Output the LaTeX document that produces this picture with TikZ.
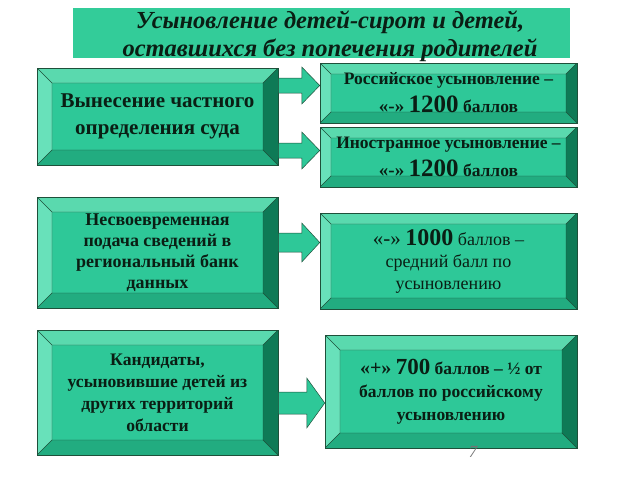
\documentclass[tikz,border=0pt]{standalone}
\usepackage{fontspec}
\setmainfont{Liberation Serif}
\usetikzlibrary{calc}
\definecolor{panelface}{RGB}{46,200,152}
\definecolor{paneltop}{RGB}{90,217,174}
\definecolor{panelleft}{RGB}{104,225,186}
\definecolor{panelbot}{RGB}{34,172,128}
\definecolor{panelright}{RGB}{14,122,86}
\definecolor{paneledge}{RGB}{30,80,58}
\definecolor{titlefill}{RGB}{51,204,153}
\definecolor{ink}{RGB}{10,30,20}
\newcommand{\fatarrow}[4]{%
  \draw[fatarr] ($(#1)+(0,#3)$) -- ($(#2)+(-18pt,#3)$) -- ($(#2)+(-18pt,#4)$) -- (#2)
    -- ($(#2)+(-18pt,-#4)$) -- ($(#2)+(-18pt,-#3)$) -- ($(#1)+(0,-#3)$) -- cycle;}

\tikzset{
  bevelw/.store in=\bevw, bevelw=15pt,
  panel/.style={draw=paneledge, line width=0.5pt, fill=panelface, inner sep=0pt,
    align=center, text=ink, font=\bfseries\fontsize{18}{21}\selectfont,
    path picture={
      \coordinate (pnw) at (path picture bounding box.north west);
      \coordinate (pse) at (path picture bounding box.south east);
      \coordinate (pne) at (pse |- pnw);
      \coordinate (psw) at (pnw |- pse);
      \coordinate (inw) at ($(pnw)+(\bevw,-\bevw)$);
      \coordinate (ine) at ($(pne)+(-\bevw,-\bevw)$);
      \coordinate (ise) at ($(pse)+(-\bevw,\bevw)$);
      \coordinate (isw) at ($(psw)+(\bevw,\bevw)$);
      \fill[paneltop] (pnw) -- (pne) -- (ine) -- (inw) -- cycle;
      \fill[panelleft] (pnw) -- (inw) -- (isw) -- (psw) -- cycle;
      \fill[panelbot] (psw) -- (isw) -- (ise) -- (pse) -- cycle;
      \fill[panelright] (pne) -- (pse) -- (ise) -- (ine) -- cycle;
      \draw[paneledge, line width=0.4pt] (inw) rectangle (ise)
        (pnw) -- (inw) (pne) -- (ine) (pse) -- (ise) (psw) -- (isw);
    }},
  rpanel/.style={panel, bevelw=11pt, font=\bfseries\fontsize{17.5}{28}\selectfont},
  titlebar/.style={fill=titlefill, inner sep=0pt},
  titletext/.style={inner sep=0pt, align=center, text=ink,
    font=\bfseries\itshape\fontsize{24.5}{28}\selectfont},
  fatarr/.style={fill=panelface, draw=paneledge, line width=0.5pt},
  pagenum/.style={text=black!55, font=\itshape\fontsize{17}{17}\selectfont}
}

\begin{document}
\begin{tikzpicture}[x=1pt, y=-1pt]
\useasboundingbox (0,0) rectangle (640,480);

\node[titlebar, minimum width=497pt, minimum height=50pt] (title) at (321.5,33) {};
\node[titletext] (titletxt) at (330,36)
  {Усыновление детей-сирот и детей,\\оставшихся без попечения родителей};

\node[panel, minimum width=241pt, minimum height=97pt, font=\bfseries\fontsize{21}{27}\selectfont] (ldecis) at (157.5,116.5)
  {Вынесение частного\\определения суда};
\node[panel, minimum width=241pt, minimum height=111pt] (lbank) at (157.5,252.5)
  {Несвоевременная\\подача сведений в\\региональный банк\\данных};
\node[panel, minimum width=241pt, minimum height=125pt, font=\bfseries\fontsize{17.6}{22}\selectfont] (lcand) at (157.5,392.5)
  {Кандидаты,\\усыновившие детей из\\других территорий\\области};

\node[rpanel, minimum width=257pt, minimum height=60pt] (rrus) at (448.5,93)
  {Российское усыновление –\\{\fontsize{19}{19}\selectfont«-»} {\fontsize{25}{25}\selectfont 1200} баллов};
\node[rpanel, minimum width=257pt, minimum height=60pt] (rfor) at (448.5,157)
  {Иностранное усыновление –\\{\fontsize{19}{19}\selectfont«-»} {\fontsize{25}{25}\selectfont 1200} баллов};
\node[rpanel, minimum width=257pt, minimum height=96pt, font=\mdseries\fontsize{18}{22}\selectfont] (ravg) at (448.5,261)
  {{\fontsize{21}{21}\selectfont«-»} {\bfseries\fontsize{24}{24}\selectfont 1000} баллов –\\средний балл по\\усыновлению};
\node[rpanel, bevelw=15pt, minimum width=252pt, minimum height=113pt, font=\bfseries\fontsize{17.5}{23}\selectfont] (rhalf) at (451,391.5)
  {{\fontsize{20}{20}\selectfont«+»} {\fontsize{23}{23}\selectfont 700} баллов – ½ от\\баллов по российскому\\усыновлению};

\coordinate (ya) at (0,85.5);
\coordinate (yb) at (0,150.5);
\coordinate (yc) at (0,242.5);
\coordinate (yd) at (0,403);
\fatarrow{ldecis.east |- ya}{rrus.west |- ya}{7.5pt}{18.5pt}
\fatarrow{ldecis.east |- yb}{rfor.west |- yb}{7.5pt}{18.5pt}
\fatarrow{lbank.east |- yc}{ravg.west |- yc}{9.5pt}{19.5pt}
\fatarrow{lcand.east |- yd}{rhalf.west |- yd}{11pt}{25pt}

\node[pagenum] (pnum) at (473,452) {7};
\end{tikzpicture}
\end{document}
